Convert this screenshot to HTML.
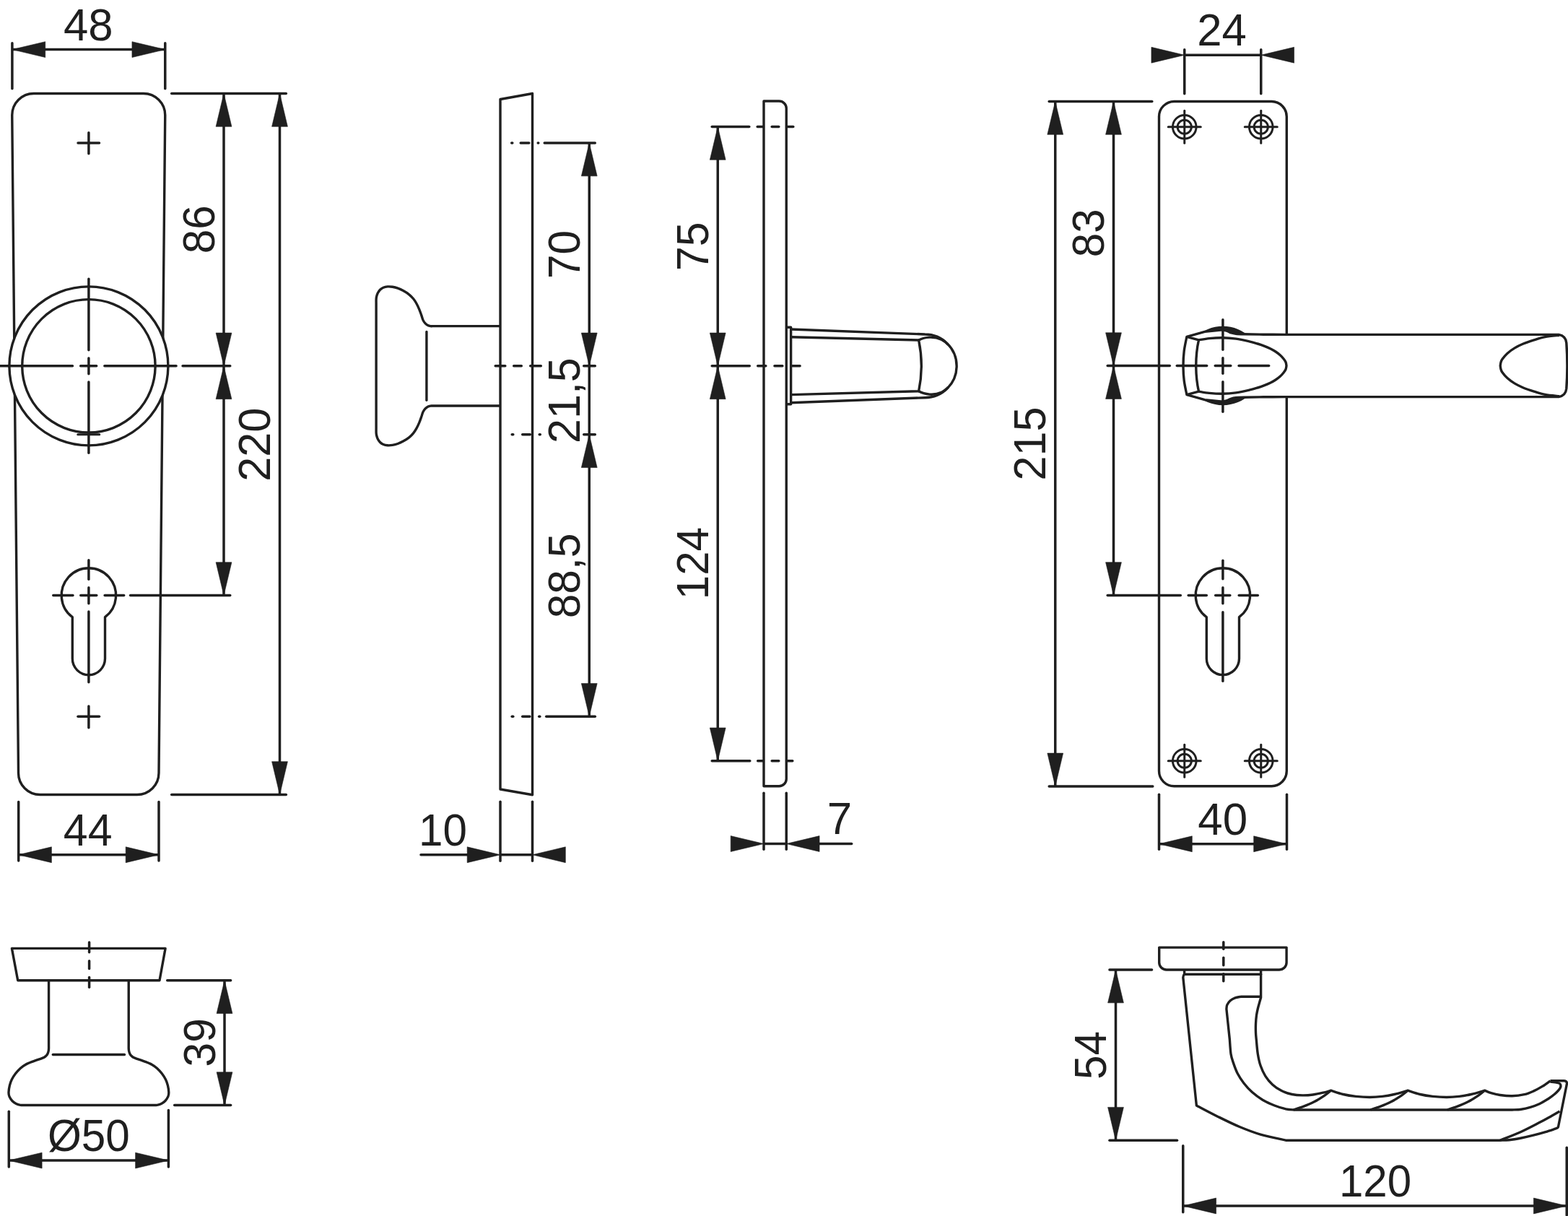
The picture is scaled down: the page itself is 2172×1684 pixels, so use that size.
<!DOCTYPE html>
<html><head><meta charset="utf-8"><title>Drawing</title>
<style>
html,body{margin:0;padding:0;background:#fff;}
body{width:2172px;height:1684px;overflow:hidden;}
svg{display:block;font-family:"Liberation Sans",sans-serif;}
</style></head><body>
<svg width="2172" height="1684" viewBox="0 0 2172 1684" stroke="#1f1f1f" fill="none" stroke-linejoin="round">
<rect x="0" y="0" width="2172" height="1684" fill="#ffffff" stroke="none"/>
<path d="M46.75,129.5 H198.75 A30,30 0 0 1 228.75,159.5 L220,1070.5 A30,30 0 0 1 190,1100.5 H55.5 A30,30 0 0 1 25.5,1070.5 L16.75,159.5 A30,30 0 0 1 46.75,129.5 Z" stroke-width="3.4" fill="none" />
<line x1="108.0" y1="198" x2="137.5" y2="198" stroke-width="3.5" stroke-linecap="round"/>
<line x1="122.9" y1="183.75" x2="122.9" y2="212.75" stroke-width="3.5" stroke-linecap="round"/>
<line x1="108.0" y1="992.25" x2="137.5" y2="992.25" stroke-width="3.5" stroke-linecap="round"/>
<line x1="122.9" y1="978.0" x2="122.9" y2="1007.75" stroke-width="3.5" stroke-linecap="round"/>
<circle cx="122.9" cy="506.85" r="110" stroke-width="3.4" fill="#fff"/>
<circle cx="122.9" cy="506.85" r="92.2" stroke-width="3.4" fill="none"/>
<line x1="-1.25" y1="506.85" x2="100.45" y2="506.85" stroke-width="3.5" stroke-linecap="round"/>
<line x1="111.65" y1="506.85" x2="133.65" y2="506.85" stroke-width="3.5" stroke-linecap="round"/>
<line x1="144.85" y1="506.85" x2="244.05" y2="506.85" stroke-width="3.5" stroke-linecap="round"/>
<line x1="253.05" y1="506.85" x2="318.75" y2="506.85" stroke-width="3.5" stroke-linecap="round"/>
<line x1="122.9" y1="386.25" x2="122.9" y2="484.85" stroke-width="3.5" stroke-linecap="round"/>
<line x1="122.9" y1="496.05" x2="122.9" y2="517.85" stroke-width="3.5" stroke-linecap="round"/>
<line x1="122.9" y1="529.05" x2="122.9" y2="627.25" stroke-width="3.5" stroke-linecap="round"/>
<line x1="107.8" y1="601.75" x2="137.7" y2="601.75" stroke-width="3.1" stroke-linecap="round"/>
<path d="M100.30000000000001,854.67 A37.7,37.7 0 1 1 145.5,854.67 V912.1 A22.6,22.6 0 0 1 100.30000000000001,912.1 Z" stroke-width="3.4" fill="none" />
<line x1="73.75" y1="824.5" x2="100.95" y2="824.5" stroke-width="3.5" stroke-linecap="round"/>
<line x1="111.75" y1="824.5" x2="133.75" y2="824.5" stroke-width="3.5" stroke-linecap="round"/>
<line x1="145.15" y1="824.5" x2="171.65" y2="824.5" stroke-width="3.5" stroke-linecap="round"/>
<line x1="180.55" y1="824.5" x2="318.75" y2="824.5" stroke-width="3.5" stroke-linecap="round"/>
<line x1="122.9" y1="775.75" x2="122.9" y2="802.35" stroke-width="3.5" stroke-linecap="round"/>
<line x1="122.9" y1="813.75" x2="122.9" y2="835.85" stroke-width="3.5" stroke-linecap="round"/>
<line x1="122.9" y1="846.95" x2="122.9" y2="944.85" stroke-width="3.5" stroke-linecap="round"/>
<line x1="237.7" y1="129.5" x2="396.3" y2="129.5" stroke-width="3.5" stroke-linecap="round"/>
<line x1="237.7" y1="1100.5" x2="396.3" y2="1100.5" stroke-width="3.5" stroke-linecap="round"/>
<line x1="310" y1="129.5" x2="310" y2="824.5" stroke-width="3.5" stroke-linecap="butt"/>
<polygon points="310.00,129.50 299.10,175.30 320.90,175.30" fill="#1f1f1f" stroke-width="0.6"/>
<polygon points="310.00,506.85 299.10,461.05 320.90,461.05" fill="#1f1f1f" stroke-width="0.6"/>
<polygon points="310.00,506.85 299.10,552.65 320.90,552.65" fill="#1f1f1f" stroke-width="0.6"/>
<polygon points="310.00,824.50 299.10,778.70 320.90,778.70" fill="#1f1f1f" stroke-width="0.6"/>
<line x1="387.5" y1="129.5" x2="387.5" y2="1100.5" stroke-width="3.5" stroke-linecap="butt"/>
<polygon points="387.50,129.50 376.60,175.30 398.40,175.30" fill="#1f1f1f" stroke-width="0.6"/>
<polygon points="387.50,1100.50 376.60,1054.70 398.40,1054.70" fill="#1f1f1f" stroke-width="0.6"/>
<line x1="16.9" y1="59.7" x2="16.9" y2="122.8" stroke-width="3.5" stroke-linecap="round"/>
<line x1="228.75" y1="59.7" x2="228.75" y2="122.8" stroke-width="3.5" stroke-linecap="round"/>
<line x1="16.9" y1="68.6" x2="228.75" y2="68.6" stroke-width="3.5" stroke-linecap="butt"/>
<polygon points="16.90,68.60 62.70,57.70 62.70,79.50" fill="#1f1f1f" stroke-width="0.6"/>
<polygon points="228.75,68.60 182.95,57.70 182.95,79.50" fill="#1f1f1f" stroke-width="0.6"/>
<line x1="25.7" y1="1110.5" x2="25.7" y2="1192.0" stroke-width="3.5" stroke-linecap="round"/>
<line x1="220" y1="1110.5" x2="220" y2="1192.0" stroke-width="3.5" stroke-linecap="round"/>
<line x1="25.6" y1="1183.75" x2="220" y2="1183.75" stroke-width="3.5" stroke-linecap="butt"/>
<polygon points="25.60,1183.75 71.40,1172.85 71.40,1194.65" fill="#1f1f1f" stroke-width="0.6"/>
<polygon points="220.00,1183.75 174.20,1172.85 174.20,1194.65" fill="#1f1f1f" stroke-width="0.6"/>
<path d="M16.4,1313.4 H229.1 L221,1357.7 H24.7 Z" stroke-width="3.4" fill="none" />
<line x1="123.6" y1="1305.05" x2="123.6" y2="1318.75" stroke-width="3.5" stroke-linecap="round"/>
<line x1="123.6" y1="1330.85" x2="123.6" y2="1341.45" stroke-width="3.5" stroke-linecap="round"/>
<line x1="123.6" y1="1353.55" x2="123.6" y2="1367.25" stroke-width="3.5" stroke-linecap="round"/>
<path d="M67.56,1357.7 L67.56,1448.00 C67.56,1448.67 67.62,1450.75 67.56,1452.00 C67.50,1453.25 67.46,1454.28 67.20,1455.50 C66.94,1456.72 66.47,1458.27 66.00,1459.30 C65.53,1460.33 65.13,1460.92 64.40,1461.70 C63.67,1462.48 62.57,1463.40 61.60,1464.00 C60.63,1464.60 61.45,1464.25 58.60,1465.30 C55.75,1466.35 48.33,1468.82 44.50,1470.30 C40.67,1471.78 38.32,1472.68 35.60,1474.20 C32.88,1475.72 30.55,1477.30 28.20,1479.40 C25.85,1481.50 23.48,1484.20 21.50,1486.80 C19.52,1489.40 17.65,1492.27 16.30,1495.00 C14.95,1497.73 14.12,1500.23 13.40,1503.20 C12.68,1506.17 12.07,1510.22 12.00,1512.80 C11.93,1515.38 12.15,1516.72 13.00,1518.70 C13.85,1520.68 15.55,1523.08 17.10,1524.70 C18.65,1526.32 20.45,1527.47 22.30,1528.40 C24.15,1529.33 26.25,1529.95 28.20,1530.30 C30.15,1530.65 33.03,1530.47 34.00,1530.50 L211.80,1530.50 C212.77,1530.47 215.65,1530.65 217.60,1530.30 C219.55,1529.95 221.65,1529.33 223.50,1528.40 C225.35,1527.47 227.15,1526.32 228.70,1524.70 C230.25,1523.08 231.95,1520.68 232.80,1518.70 C233.65,1516.72 233.87,1515.38 233.80,1512.80 C233.73,1510.22 233.12,1506.17 232.40,1503.20 C231.68,1500.23 230.85,1497.73 229.50,1495.00 C228.15,1492.27 226.28,1489.40 224.30,1486.80 C222.32,1484.20 219.95,1481.50 217.60,1479.40 C215.25,1477.30 212.92,1475.72 210.20,1474.20 C207.48,1472.68 205.13,1471.78 201.30,1470.30 C197.47,1468.82 190.05,1466.35 187.20,1465.30 C184.35,1464.25 185.17,1464.60 184.20,1464.00 C183.23,1463.40 182.13,1462.48 181.40,1461.70 C180.67,1460.92 180.27,1460.33 179.80,1459.30 C179.33,1458.27 178.86,1456.72 178.60,1455.50 C178.34,1454.28 178.30,1453.25 178.24,1452.00 C178.18,1450.75 178.24,1448.67 178.24,1448.00 L178.24,1357.7" stroke-width="3.4" fill="none" />
<line x1="73.3" y1="1460.5" x2="172.5" y2="1460.5" stroke-width="3.4" stroke-linecap="round"/>
<line x1="231.7" y1="1357.7" x2="319.6" y2="1357.7" stroke-width="3.5" stroke-linecap="round"/>
<line x1="241.7" y1="1530.6" x2="319.6" y2="1530.6" stroke-width="3.5" stroke-linecap="round"/>
<line x1="311" y1="1357.7" x2="311" y2="1530.6" stroke-width="3.5" stroke-linecap="butt"/>
<polygon points="311.00,1357.70 300.10,1403.50 321.90,1403.50" fill="#1f1f1f" stroke-width="0.6"/>
<polygon points="311.00,1530.60 300.10,1484.80 321.90,1484.80" fill="#1f1f1f" stroke-width="0.6"/>
<line x1="12.3" y1="1539.25" x2="12.3" y2="1616.05" stroke-width="3.5" stroke-linecap="round"/>
<line x1="233.4" y1="1537.45" x2="233.4" y2="1616.05" stroke-width="3.5" stroke-linecap="round"/>
<line x1="12.3" y1="1607.1" x2="233.4" y2="1607.1" stroke-width="3.5" stroke-linecap="butt"/>
<polygon points="12.30,1607.10 58.10,1596.20 58.10,1618.00" fill="#1f1f1f" stroke-width="0.6"/>
<polygon points="233.40,1607.10 187.60,1596.20 187.60,1618.00" fill="#1f1f1f" stroke-width="0.6"/>
<path d="M693,137.5 L737.5,129.5 V1100.75 L693,1093 Z" stroke-width="3.4" fill="none" />
<path d="M693,451.64 L600.00,451.64 C599.38,451.64 597.53,451.83 596.30,451.64 C595.07,451.45 593.83,451.17 592.60,450.50 C591.37,449.83 590.02,448.83 588.90,447.60 C587.78,446.37 586.77,444.97 585.90,443.10 C585.03,441.23 584.57,438.87 583.70,436.40 C582.83,433.93 581.82,430.95 580.70,428.30 C579.58,425.65 578.35,422.92 577.00,420.50 C575.65,418.08 574.33,415.92 572.60,413.80 C570.87,411.68 568.95,409.67 566.60,407.80 C564.25,405.93 561.10,404.03 558.50,402.60 C555.90,401.17 553.48,400.08 551.00,399.20 C548.52,398.32 545.95,397.68 543.60,397.30 C541.25,396.92 539.00,396.75 536.90,396.90 C534.80,397.05 532.73,397.48 531.00,398.20 C529.27,398.92 527.80,399.90 526.50,401.20 C525.20,402.50 524.03,404.33 523.20,406.00 C522.37,407.67 521.85,409.72 521.50,411.20 C521.15,412.68 521.17,413.43 521.10,414.90 C521.03,416.37 521.10,419.15 521.10,420.00 L521.10,593.70 C521.10,594.55 521.03,597.33 521.10,598.80 C521.17,600.27 521.15,601.02 521.50,602.50 C521.85,603.98 522.37,606.03 523.20,607.70 C524.03,609.37 525.20,611.20 526.50,612.50 C527.80,613.80 529.27,614.78 531.00,615.50 C532.73,616.22 534.80,616.65 536.90,616.80 C539.00,616.95 541.25,616.78 543.60,616.40 C545.95,616.02 548.52,615.38 551.00,614.50 C553.48,613.62 555.90,612.53 558.50,611.10 C561.10,609.67 564.25,607.77 566.60,605.90 C568.95,604.03 570.87,602.02 572.60,599.90 C574.33,597.78 575.65,595.62 577.00,593.20 C578.35,590.78 579.58,588.05 580.70,585.40 C581.82,582.75 582.83,579.77 583.70,577.30 C584.57,574.83 585.03,572.47 585.90,570.60 C586.77,568.73 587.78,567.33 588.90,566.10 C590.02,564.87 591.37,563.87 592.60,563.20 C593.83,562.53 595.07,562.25 596.30,562.06 C597.53,561.87 599.38,562.06 600.00,562.06 L693,562.06" stroke-width="3.4" fill="none" />
<line x1="590.9" y1="459.5" x2="590.9" y2="554.1999999999999" stroke-width="3.4" stroke-linecap="round"/>
<line x1="686.2" y1="506.85" x2="699.8" y2="506.85" stroke-width="3.5" stroke-linecap="round"/>
<line x1="711.7" y1="506.85" x2="722.3" y2="506.85" stroke-width="3.5" stroke-linecap="round"/>
<line x1="734.7" y1="506.85" x2="749.3" y2="506.85" stroke-width="3.5" stroke-linecap="round"/>
<line x1="808.7" y1="506.85" x2="824.3" y2="506.85" stroke-width="3.5" stroke-linecap="round"/>
<line x1="709.2" y1="601.75" x2="710.8" y2="601.75" stroke-width="3.5" stroke-linecap="round"/>
<line x1="723.7" y1="601.75" x2="734.3" y2="601.75" stroke-width="3.5" stroke-linecap="round"/>
<line x1="747.2" y1="601.75" x2="748.3" y2="601.75" stroke-width="3.5" stroke-linecap="round"/>
<line x1="808.7" y1="601.75" x2="824.3" y2="601.75" stroke-width="3.5" stroke-linecap="round"/>
<line x1="708.7" y1="198" x2="709.8" y2="198" stroke-width="3.5" stroke-linecap="round"/>
<line x1="721.2" y1="198" x2="732.8" y2="198" stroke-width="3.5" stroke-linecap="round"/>
<line x1="745.2" y1="198" x2="745.8" y2="198" stroke-width="3.5" stroke-linecap="round"/>
<line x1="754.2" y1="198" x2="824.3" y2="198" stroke-width="3.5" stroke-linecap="round"/>
<line x1="709.2" y1="992.25" x2="710.8" y2="992.25" stroke-width="3.5" stroke-linecap="round"/>
<line x1="723.7" y1="992.25" x2="733.8" y2="992.25" stroke-width="3.5" stroke-linecap="round"/>
<line x1="746.7" y1="992.25" x2="747.8" y2="992.25" stroke-width="3.5" stroke-linecap="round"/>
<line x1="756.7" y1="992.25" x2="824.3" y2="992.25" stroke-width="3.5" stroke-linecap="round"/>
<line x1="816.25" y1="198" x2="816.25" y2="992.25" stroke-width="3.5" stroke-linecap="butt"/>
<polygon points="816.25,198.00 805.35,243.80 827.15,243.80" fill="#1f1f1f" stroke-width="0.6"/>
<polygon points="816.25,506.85 805.35,461.05 827.15,461.05" fill="#1f1f1f" stroke-width="0.6"/>
<polygon points="816.25,601.75 805.35,647.55 827.15,647.55" fill="#1f1f1f" stroke-width="0.6"/>
<polygon points="816.25,992.25 805.35,946.45 827.15,946.45" fill="#1f1f1f" stroke-width="0.6"/>
<line x1="693" y1="1110.2" x2="693" y2="1192.3" stroke-width="3.5" stroke-linecap="round"/>
<line x1="737.5" y1="1110.2" x2="737.5" y2="1192.3" stroke-width="3.5" stroke-linecap="round"/>
<line x1="583.0" y1="1183.75" x2="678.25" y2="1183.75" stroke-width="3.5" stroke-linecap="round"/>
<line x1="693" y1="1183.75" x2="737.5" y2="1183.75" stroke-width="3.5" stroke-linecap="butt"/>
<polygon points="693.00,1183.75 647.20,1172.85 647.20,1194.65" fill="#1f1f1f" stroke-width="0.6"/>
<polygon points="737.50,1183.75 783.30,1172.85 783.30,1194.65" fill="#1f1f1f" stroke-width="0.6"/>
<path d="M1058,140 H1079.25 A10,10 0 0 1 1089.25,150 V1078.75 A10,10 0 0 1 1079.25,1088.75 H1058 Z" stroke-width="3.4" fill="none" />
<line x1="986.2" y1="175.5" x2="1037.8" y2="175.5" stroke-width="3.5" stroke-linecap="round"/>
<line x1="1049.2" y1="175.5" x2="1056.8" y2="175.5" stroke-width="3.5" stroke-linecap="round"/>
<line x1="1069.2" y1="175.5" x2="1078.8" y2="175.5" stroke-width="3.5" stroke-linecap="round"/>
<line x1="1091.2" y1="175.5" x2="1098.8" y2="175.5" stroke-width="3.5" stroke-linecap="round"/>
<line x1="986.2" y1="506.85" x2="1038.3" y2="506.85" stroke-width="3.5" stroke-linecap="round"/>
<line x1="1049.7" y1="506.85" x2="1060.8" y2="506.85" stroke-width="3.5" stroke-linecap="round"/>
<line x1="1072.95" y1="506.85" x2="1083.85" y2="506.85" stroke-width="3.5" stroke-linecap="round"/>
<line x1="1097.75" y1="506.85" x2="1108.05" y2="506.85" stroke-width="3.5" stroke-linecap="round"/>
<line x1="986.2" y1="1053.75" x2="1038.8" y2="1053.75" stroke-width="3.5" stroke-linecap="round"/>
<line x1="1049.7" y1="1053.75" x2="1056.8" y2="1053.75" stroke-width="3.5" stroke-linecap="round"/>
<line x1="1069.2" y1="1053.75" x2="1078.8" y2="1053.75" stroke-width="3.5" stroke-linecap="round"/>
<line x1="1091.2" y1="1053.75" x2="1097.8" y2="1053.75" stroke-width="3.5" stroke-linecap="round"/>
<line x1="994.25" y1="175.5" x2="994.25" y2="1053.75" stroke-width="3.5" stroke-linecap="butt"/>
<polygon points="994.25,175.50 983.35,221.30 1005.15,221.30" fill="#1f1f1f" stroke-width="0.6"/>
<polygon points="994.25,506.85 983.35,461.05 1005.15,461.05" fill="#1f1f1f" stroke-width="0.6"/>
<polygon points="994.25,506.85 983.35,552.65 1005.15,552.65" fill="#1f1f1f" stroke-width="0.6"/>
<polygon points="994.25,1053.75 983.35,1007.95 1005.15,1007.95" fill="#1f1f1f" stroke-width="0.6"/>
<path d="M1089.25,453.2 H1095.6 V559.8 H1089.25" stroke-width="3.4" fill="none" />
<path d="M1095.6,456 L1281.3,463 A43.85,43.85 0 0 1 1281.3,550.7 L1095.6,557.7" stroke-width="3.4" fill="none" />
<path d="M1095.6,466.7 L1272.6,471 C1277.6,495 1277.6,518 1272.6,541.8 L1095.6,546.6" stroke-width="3.4" fill="none" />
<path d="M1272.6,471 C1281,466.5 1294,465.5 1304,470.3 C1308,472.3 1311,474.8 1313.5,477.5" stroke-width="3.4" fill="none" />
<path d="M1272.6,541.8 C1281,546.5 1294,548 1304,543.4 C1308,541.4 1311,538.9 1313.5,536.2" stroke-width="3.4" fill="none" />
<line x1="1058" y1="1098.2" x2="1058" y2="1176.3" stroke-width="3.5" stroke-linecap="round"/>
<line x1="1089.25" y1="1098.2" x2="1089.25" y2="1176.3" stroke-width="3.5" stroke-linecap="round"/>
<line x1="1101.75" y1="1168.5" x2="1179.65" y2="1168.5" stroke-width="3.5" stroke-linecap="round"/>
<line x1="1058" y1="1168.5" x2="1089.25" y2="1168.5" stroke-width="3.5" stroke-linecap="butt"/>
<polygon points="1058.00,1168.50 1012.20,1157.60 1012.20,1179.40" fill="#1f1f1f" stroke-width="0.6"/>
<polygon points="1089.25,1168.50 1135.05,1157.60 1135.05,1179.40" fill="#1f1f1f" stroke-width="0.6"/>
<path d="M1626.5,140.5 H1761.5 A21,21 0 0 1 1782.3,161.5 V1067.75 A21,21 0 0 1 1761.5,1088.75 H1626.5 A21,21 0 0 1 1605.5,1067.75 V161.5 A21,21 0 0 1 1626.5,140.5 Z" stroke-width="3.4" fill="none" />
<circle cx="1640.75" cy="175.75" r="16.3" stroke-width="3" fill="none"/>
<circle cx="1640.75" cy="175.75" r="9.6" stroke-width="3" fill="none"/>
<line x1="1618.25" y1="175.75" x2="1663.25" y2="175.75" stroke-width="3" stroke-linecap="round"/>
<line x1="1640.75" y1="153.25" x2="1640.75" y2="198.25" stroke-width="3" stroke-linecap="round"/>
<circle cx="1640.75" cy="1053.75" r="16.3" stroke-width="3" fill="none"/>
<circle cx="1640.75" cy="1053.75" r="9.6" stroke-width="3" fill="none"/>
<line x1="1618.25" y1="1053.75" x2="1663.25" y2="1053.75" stroke-width="3" stroke-linecap="round"/>
<line x1="1640.75" y1="1031.25" x2="1640.75" y2="1076.25" stroke-width="3" stroke-linecap="round"/>
<circle cx="1746.75" cy="175.75" r="16.3" stroke-width="3" fill="none"/>
<circle cx="1746.75" cy="175.75" r="9.6" stroke-width="3" fill="none"/>
<line x1="1724.25" y1="175.75" x2="1769.25" y2="175.75" stroke-width="3" stroke-linecap="round"/>
<line x1="1746.75" y1="153.25" x2="1746.75" y2="198.25" stroke-width="3" stroke-linecap="round"/>
<circle cx="1746.75" cy="1053.75" r="16.3" stroke-width="3" fill="none"/>
<circle cx="1746.75" cy="1053.75" r="9.6" stroke-width="3" fill="none"/>
<line x1="1724.25" y1="1053.75" x2="1769.25" y2="1053.75" stroke-width="3" stroke-linecap="round"/>
<line x1="1746.75" y1="1031.25" x2="1746.75" y2="1076.25" stroke-width="3" stroke-linecap="round"/>
<circle cx="1693.9" cy="506.5" r="54.7" fill="#1f1f1f" stroke="none"/>
<path d="M1643.9,466.3 L1668.8,459.4 L1693.6,456.8 C1694.67,457.07 1698.00,457.70 1700.00,458.40 C1702.00,459.10 1703.60,460.35 1705.60,461.00 C1707.60,461.65 1709.10,462.00 1712.00,462.30 C1714.90,462.60 1716.67,462.65 1723.00,462.80 C1729.33,462.95 1740.17,463.10 1750.00,463.20 C1759.83,463.30 1776.67,463.37 1782.00,463.40 L2159.3,463.4 C2165,464.5 2169.2,468.5 2169.8,474.8 C2171.2,495 2171.2,518 2169.8,538.2 C2169.2,544.5 2165,548.5 2159.3,549.6 L1782,549.6 C1776.67,549.63 1759.83,549.70 1750.00,549.80 C1740.17,549.90 1729.33,550.05 1723.00,550.20 C1716.67,550.35 1714.90,550.40 1712.00,550.70 C1709.10,551.00 1707.60,551.35 1705.60,552.00 C1703.60,552.65 1702.00,553.90 1700.00,554.60 C1698.00,555.30 1694.67,555.93 1693.60,556.20 L1668.8,553.6 L1643.9,546.7 C1643.28,543.42 1641.02,533.70 1640.20,527.00 C1639.38,520.30 1639.00,513.33 1639.00,506.50 C1639.00,499.67 1639.38,492.70 1640.20,486.00 C1641.02,479.30 1643.28,469.58 1643.90,466.30 Z" stroke-width="3.4" fill="#fff" />
<path d="M1643.9,466.3 L1660.5,470.9 C1655.5,493 1655.5,520 1660.5,542.1 L1643.9,546.7" stroke-width="3.4" fill="none" />
<path d="M1660.50,470.90 C1662.95,470.52 1669.68,469.13 1675.20,468.60 C1680.72,468.07 1687.47,467.62 1693.60,467.70 C1699.73,467.78 1705.87,468.25 1712.00,469.10 C1718.13,469.95 1725.40,471.65 1730.40,472.80 C1735.40,473.95 1738.47,474.92 1742.00,476.00 C1745.53,477.08 1748.60,478.13 1751.60,479.30 C1754.60,480.47 1757.43,481.72 1760.00,483.00 C1762.57,484.28 1764.75,485.50 1767.00,487.00 C1769.25,488.50 1771.65,490.33 1773.50,492.00 C1775.35,493.67 1776.85,495.42 1778.10,497.00 C1779.35,498.58 1780.35,499.92 1781.00,501.50 C1781.65,503.08 1781.83,505.67 1782.00,506.50 C1781.83,507.33 1781.65,509.92 1781.00,511.50 C1780.35,513.08 1779.35,514.42 1778.10,516.00 C1776.85,517.58 1775.35,519.33 1773.50,521.00 C1771.65,522.67 1769.25,524.50 1767.00,526.00 C1764.75,527.50 1762.57,528.72 1760.00,530.00 C1757.43,531.28 1754.60,532.53 1751.60,533.70 C1748.60,534.87 1745.53,535.92 1742.00,537.00 C1738.47,538.08 1735.40,539.05 1730.40,540.20 C1725.40,541.35 1718.13,543.05 1712.00,543.90 C1705.87,544.75 1699.73,545.22 1693.60,545.30 C1687.47,545.38 1680.72,544.93 1675.20,544.40 C1669.68,543.87 1662.95,542.48 1660.50,542.10" stroke-width="3.4" fill="none" />
<path d="M2160.00,464.30 C2156.72,464.68 2146.15,465.50 2140.30,466.60 C2134.45,467.70 2130.03,469.28 2124.90,470.90 C2119.77,472.52 2114.00,474.43 2109.50,476.30 C2105.00,478.17 2101.50,479.92 2097.90,482.10 C2094.30,484.28 2090.73,486.83 2087.90,489.40 C2085.07,491.97 2082.38,495.43 2080.90,497.50 C2079.42,499.57 2079.45,500.30 2079.00,501.80 C2078.55,503.30 2078.33,505.72 2078.20,506.50 C2078.33,507.28 2078.55,509.70 2079.00,511.20 C2079.45,512.70 2079.42,513.43 2080.90,515.50 C2082.38,517.57 2085.07,521.03 2087.90,523.60 C2090.73,526.17 2094.30,528.72 2097.90,530.90 C2101.50,533.08 2105.00,534.83 2109.50,536.70 C2114.00,538.57 2119.77,540.48 2124.90,542.10 C2130.03,543.72 2134.45,545.30 2140.30,546.40 C2146.15,547.50 2156.72,548.32 2160.00,548.70" stroke-width="3.4" fill="none" />
<line x1="1640.75" y1="68.7" x2="1640.75" y2="129.8" stroke-width="3.5" stroke-linecap="round"/>
<line x1="1746.75" y1="68.7" x2="1746.75" y2="129.8" stroke-width="3.5" stroke-linecap="round"/>
<line x1="1640.75" y1="76.25" x2="1746.75" y2="76.25" stroke-width="3.5" stroke-linecap="butt"/>
<polygon points="1640.75,76.25 1594.95,65.35 1594.95,87.15" fill="#1f1f1f" stroke-width="0.6"/>
<polygon points="1746.75,76.25 1792.55,65.35 1792.55,87.15" fill="#1f1f1f" stroke-width="0.6"/>
<line x1="1453.2" y1="140.5" x2="1595.8" y2="140.5" stroke-width="3.5" stroke-linecap="round"/>
<line x1="1453.2" y1="1088.9" x2="1596.8" y2="1088.9" stroke-width="3.5" stroke-linecap="round"/>
<line x1="1461.75" y1="140.5" x2="1461.75" y2="1088.9" stroke-width="3.5" stroke-linecap="butt"/>
<polygon points="1461.75,140.50 1450.85,186.30 1472.65,186.30" fill="#1f1f1f" stroke-width="0.6"/>
<polygon points="1461.75,1088.90 1450.85,1043.10 1472.65,1043.10" fill="#1f1f1f" stroke-width="0.6"/>
<line x1="1542.5" y1="140.5" x2="1542.5" y2="824.5" stroke-width="3.5" stroke-linecap="butt"/>
<polygon points="1542.50,140.50 1531.60,186.30 1553.40,186.30" fill="#1f1f1f" stroke-width="0.6"/>
<polygon points="1542.50,506.60 1531.60,460.80 1553.40,460.80" fill="#1f1f1f" stroke-width="0.6"/>
<polygon points="1542.50,506.60 1531.60,552.40 1553.40,552.40" fill="#1f1f1f" stroke-width="0.6"/>
<polygon points="1542.50,824.50 1531.60,778.70 1553.40,778.70" fill="#1f1f1f" stroke-width="0.6"/>
<line x1="1534.2" y1="506.6" x2="1620.3" y2="506.6" stroke-width="3.5" stroke-linecap="round"/>
<line x1="1630.25" y1="506.6" x2="1671.65" y2="506.6" stroke-width="3.5" stroke-linecap="round"/>
<line x1="1683.25" y1="506.6" x2="1704.75" y2="506.6" stroke-width="3.5" stroke-linecap="round"/>
<line x1="1716.05" y1="506.6" x2="1757.65" y2="506.6" stroke-width="3.5" stroke-linecap="round"/>
<line x1="1693.9" y1="442.75" x2="1693.9" y2="484.25" stroke-width="3.5" stroke-linecap="round"/>
<line x1="1693.9" y1="495.75" x2="1693.9" y2="517.35" stroke-width="3.5" stroke-linecap="round"/>
<line x1="1693.9" y1="528.85" x2="1693.9" y2="570.25" stroke-width="3.5" stroke-linecap="round"/>
<path d="M1671.3000000000002,854.67 A37.7,37.7 0 1 1 1716.5,854.67 V912.1 A22.6,22.6 0 0 1 1671.3000000000002,912.1 Z" stroke-width="3.4" fill="none" />
<line x1="1534.2" y1="824.5" x2="1635.3" y2="824.5" stroke-width="3.5" stroke-linecap="round"/>
<line x1="1646.2" y1="824.5" x2="1671.3" y2="824.5" stroke-width="3.5" stroke-linecap="round"/>
<line x1="1683.7" y1="824.5" x2="1703.8" y2="824.5" stroke-width="3.5" stroke-linecap="round"/>
<line x1="1716.2" y1="824.5" x2="1742.3" y2="824.5" stroke-width="3.5" stroke-linecap="round"/>
<line x1="1693.9" y1="776.2" x2="1693.9" y2="801.8" stroke-width="3.5" stroke-linecap="round"/>
<line x1="1693.9" y1="813.7" x2="1693.9" y2="835.8" stroke-width="3.5" stroke-linecap="round"/>
<line x1="1693.9" y1="847.7" x2="1693.9" y2="943.3" stroke-width="3.5" stroke-linecap="round"/>
<line x1="1605.5" y1="1100.2" x2="1605.5" y2="1176.3" stroke-width="3.5" stroke-linecap="round"/>
<line x1="1782.5" y1="1100.2" x2="1782.5" y2="1176.3" stroke-width="3.5" stroke-linecap="round"/>
<line x1="1605.5" y1="1168.75" x2="1782.5" y2="1168.75" stroke-width="3.5" stroke-linecap="butt"/>
<polygon points="1605.50,1168.75 1651.30,1157.85 1651.30,1179.65" fill="#1f1f1f" stroke-width="0.6"/>
<polygon points="1782.50,1168.75 1736.70,1157.85 1736.70,1179.65" fill="#1f1f1f" stroke-width="0.6"/>
<path d="M1605.7,1312.1 H1782.1 V1333 A10,10 0 0 1 1772.1,1343 H1615.7 A10,10 0 0 1 1605.7,1333 Z" stroke-width="3.4" fill="none" />
<line x1="1694.8" y1="1304.65" x2="1694.8" y2="1314.35" stroke-width="3.5" stroke-linecap="round"/>
<line x1="1694.8" y1="1326.15" x2="1694.8" y2="1336.65" stroke-width="3.5" stroke-linecap="round"/>
<line x1="1694.8" y1="1348.65" x2="1694.8" y2="1358.75" stroke-width="3.5" stroke-linecap="round"/>
<path d="M1640.6,1343 V1349.3 M1746.6,1343 V1349.3" stroke-width="3.4" fill="none" />
<line x1="1640.6" y1="1349.3" x2="1746.6" y2="1349.3" stroke-width="3.4" stroke-linecap="round"/>
<path d="M1640.6,1349.3 C1639.3,1350.5 1638.6,1352 1638.9,1354.5 L1657.4,1531 C1662.52,1533.65 1678.15,1541.98 1688.10,1546.90 C1698.05,1551.82 1707.43,1556.47 1717.10,1560.50 C1726.77,1564.53 1735.45,1567.98 1746.10,1571.10 C1756.75,1574.22 1775.18,1577.85 1781.00,1579.20 L2078,1579.2 C2080.10,1579.12 2085.72,1579.23 2090.60,1578.70 C2095.48,1578.17 2101.72,1577.08 2107.30,1576.00 C2112.88,1574.92 2118.52,1573.60 2124.10,1572.20 C2129.68,1570.80 2135.73,1569.10 2140.80,1567.60 C2145.87,1566.10 2152.22,1563.93 2154.50,1563.20 C2156.8,1562.5 2158,1562 2158.5,1560.5 L2170.4,1501 C2170.9,1498.6 2169.2,1496.8 2166.8,1496.8 L2147.5,1496.8" stroke-width="3.4" fill="none" />
<path d="M1746.6,1349.3 L1746.6,1381.5 C1746.30,1382.53 1745.50,1385.20 1744.80,1387.70 C1744.10,1390.20 1743.12,1393.43 1742.40,1396.50 C1741.68,1399.57 1740.98,1402.57 1740.50,1406.10 C1740.02,1409.63 1739.67,1413.67 1739.50,1417.70 C1739.33,1421.73 1739.37,1426.58 1739.50,1430.30 C1739.63,1434.02 1739.83,1435.15 1740.30,1440.00 C1740.77,1444.85 1741.33,1453.43 1742.30,1459.40 C1743.27,1465.37 1744.33,1470.65 1746.10,1475.80 C1747.87,1480.95 1750.15,1485.95 1752.90,1490.30 C1755.65,1494.65 1758.88,1498.52 1762.60,1501.90 C1766.32,1505.28 1770.68,1508.33 1775.20,1510.60 C1779.72,1512.87 1784.87,1514.45 1789.70,1515.50 C1794.53,1516.55 1799.37,1516.82 1804.20,1516.90 C1809.03,1516.98 1813.87,1516.63 1818.70,1516.00 C1823.53,1515.37 1829.03,1514.07 1833.20,1513.10 C1837.37,1512.13 1841.95,1510.68 1843.70,1510.20 C1846.52,1511.08 1854.87,1514.13 1860.60,1515.50 C1866.33,1516.87 1871.97,1517.73 1878.10,1518.40 C1884.23,1519.07 1891.28,1519.50 1897.40,1519.50 C1903.52,1519.50 1909.15,1519.07 1914.80,1518.40 C1920.45,1517.73 1925.40,1516.87 1931.30,1515.50 C1937.20,1514.13 1947.05,1511.08 1950.20,1510.20 C1953.02,1511.08 1961.37,1514.13 1967.10,1515.50 C1972.83,1516.87 1978.47,1517.73 1984.60,1518.40 C1990.73,1519.07 1997.78,1519.50 2003.90,1519.50 C2010.02,1519.50 2015.65,1519.07 2021.30,1518.40 C2026.95,1517.73 2031.90,1516.87 2037.80,1515.50 C2043.70,1514.13 2053.55,1511.08 2056.70,1510.20 C2058.15,1510.77 2061.85,1512.55 2065.40,1513.60 C2068.95,1514.65 2073.12,1515.80 2078.00,1516.50 C2082.88,1517.20 2089.12,1517.93 2094.70,1517.80 C2100.28,1517.67 2106.60,1516.82 2111.50,1515.70 C2116.40,1514.58 2119.92,1512.98 2124.10,1511.10 C2128.28,1509.22 2132.70,1506.78 2136.60,1504.40 C2140.50,1502.02 2145.68,1498.07 2147.50,1496.80" stroke-width="3.4" fill="none" />
<path d="M1746.6,1380.3 L1718.7,1380.3 C1717.42,1380.57 1713.42,1380.98 1711.00,1381.90 C1708.58,1382.82 1706.07,1384.18 1704.20,1385.80 C1702.33,1387.42 1700.68,1389.67 1699.80,1391.60 C1698.92,1393.53 1699.05,1396.43 1698.90,1397.40 L1703.4,1440 C1703.67,1443.23 1704.17,1454.08 1705.00,1459.40 C1705.83,1464.72 1706.87,1467.38 1708.40,1471.90 C1709.93,1476.42 1711.78,1481.82 1714.20,1486.50 C1716.62,1491.18 1719.52,1495.65 1722.90,1500.00 C1726.28,1504.35 1730.15,1508.73 1734.50,1512.60 C1738.85,1516.47 1743.83,1520.13 1749.00,1523.20 C1754.17,1526.27 1760.17,1528.90 1765.50,1531.00 C1770.83,1533.10 1776.48,1534.80 1781.00,1535.80 C1785.52,1536.80 1790.67,1536.80 1792.60,1537.00 L2094.7,1537 C2096.80,1536.87 2103.10,1536.82 2107.30,1536.20 C2111.50,1535.58 2115.72,1534.55 2119.90,1533.30 C2124.08,1532.05 2128.22,1530.67 2132.40,1528.70 C2136.58,1526.73 2141.50,1523.73 2145.00,1521.50 C2148.50,1519.27 2151.02,1517.32 2153.40,1515.30 C2155.78,1513.28 2157.90,1511.08 2159.30,1509.40 C2160.70,1507.72 2161.52,1506.60 2161.80,1505.20 C2162.08,1503.80 2161.83,1501.98 2161.00,1501.00 C2160.17,1500.02 2159.05,1499.80 2156.80,1499.30 C2154.55,1498.80 2149.05,1498.22 2147.50,1498.00" stroke-width="3.4" fill="none" />
<path d="M1843.70,1510.20 C1842.17,1511.40 1838.45,1514.75 1834.50,1517.40 C1830.55,1520.05 1824.85,1523.60 1820.00,1526.10 C1815.15,1528.60 1810.08,1530.62 1805.40,1532.40 C1800.72,1534.18 1794.15,1536.07 1791.90,1536.80" stroke-width="3.4" fill="none" />
<path d="M1950.20,1510.20 C1948.67,1511.40 1944.95,1514.75 1941.00,1517.40 C1937.05,1520.05 1931.35,1523.60 1926.50,1526.10 C1921.65,1528.60 1916.58,1530.62 1911.90,1532.40 C1907.22,1534.18 1900.65,1536.07 1898.40,1536.80" stroke-width="3.4" fill="none" />
<path d="M2056.70,1510.20 C2055.17,1511.40 2051.45,1514.75 2047.50,1517.40 C2043.55,1520.05 2037.85,1523.60 2033.00,1526.10 C2028.15,1528.60 2023.08,1530.62 2018.40,1532.40 C2013.72,1534.18 2007.15,1536.07 2004.90,1536.80" stroke-width="3.4" fill="none" />
<path d="M2078.00,1579.20 C2082.88,1577.20 2098.23,1571.30 2107.30,1567.20 C2116.37,1563.10 2125.42,1558.23 2132.40,1554.60 C2139.38,1550.97 2144.52,1547.98 2149.20,1545.40 C2153.88,1542.82 2158.62,1540.15 2160.50,1539.10" stroke-width="3.4" fill="none" />
<line x1="1536.95" y1="1343" x2="1595.55" y2="1343" stroke-width="3.5" stroke-linecap="round"/>
<line x1="1536.95" y1="1579.2" x2="1630.55" y2="1579.2" stroke-width="3.5" stroke-linecap="round"/>
<line x1="1545.5" y1="1343" x2="1545.5" y2="1579.2" stroke-width="3.5" stroke-linecap="butt"/>
<polygon points="1545.50,1343.00 1534.60,1388.80 1556.40,1388.80" fill="#1f1f1f" stroke-width="0.6"/>
<polygon points="1545.50,1579.20 1534.60,1533.40 1556.40,1533.40" fill="#1f1f1f" stroke-width="0.6"/>
<line x1="1638.75" y1="1586.7" x2="1638.75" y2="1678.8" stroke-width="3.5" stroke-linecap="round"/>
<line x1="2170.25" y1="1589.2" x2="2170.25" y2="1682.8" stroke-width="3.5" stroke-linecap="round"/>
<line x1="1638.75" y1="1670" x2="2170.25" y2="1670" stroke-width="3.5" stroke-linecap="butt"/>
<polygon points="1638.75,1670.00 1684.55,1659.10 1684.55,1680.90" fill="#1f1f1f" stroke-width="0.6"/>
<polygon points="2170.25,1670.00 2124.45,1659.10 2124.45,1680.90" fill="#1f1f1f" stroke-width="0.6"/>
<text transform="translate(87.88 55.50) scale(1.0109 1.035)" font-size="61" stroke="none" fill="#1f1f1f">48</text>
<text transform="translate(87.85 1170.85) scale(0.9975 1.035)" font-size="61" stroke="none" fill="#1f1f1f">44</text>
<text transform="translate(65.89 1594.00) scale(0.9885 1.035)" font-size="61" stroke="none" fill="#1f1f1f">&#216;50</text>
<text transform="translate(579.93 1170.85) scale(0.9866 1.035)" font-size="61" stroke="none" fill="#1f1f1f">10</text>
<text transform="translate(1145.63 1155.00) scale(1.0150 1.035)" font-size="61" stroke="none" fill="#1f1f1f">7</text>
<text transform="translate(1658.16 63.35) scale(1.0117 1.035)" font-size="61" stroke="none" fill="#1f1f1f">24</text>
<text transform="translate(1659.20 1155.85) scale(1.0150 1.035)" font-size="61" stroke="none" fill="#1f1f1f">40</text>
<text transform="translate(1854.90 1657.10) scale(0.9850 1.035)" font-size="61" stroke="none" fill="#1f1f1f">120</text>
<text transform="translate(296.50 351.34) rotate(-90) scale(0.9876 1.035)" font-size="61" stroke="none" fill="#1f1f1f">86</text>
<text transform="translate(374.00 666.81) rotate(-90) scale(1.0045 1.035)" font-size="61" stroke="none" fill="#1f1f1f">220</text>
<text transform="translate(297.50 1477.61) rotate(-90) scale(0.9945 1.035)" font-size="61" stroke="none" fill="#1f1f1f">39</text>
<text transform="translate(802.75 386.08) rotate(-90) scale(0.9905 1.035)" font-size="61" stroke="none" fill="#1f1f1f">70</text>
<text transform="translate(802.75 613.95) rotate(-90) scale(1.0001 1.035)" font-size="61" stroke="none" fill="#1f1f1f">21,5</text>
<text transform="translate(802.75 856.36) rotate(-90) scale(0.9932 1.035)" font-size="61" stroke="none" fill="#1f1f1f">88,5</text>
<text transform="translate(980.75 375.10) rotate(-90) scale(0.9974 1.035)" font-size="61" stroke="none" fill="#1f1f1f">75</text>
<text transform="translate(980.75 830.27) rotate(-90) scale(0.9850 1.035)" font-size="61" stroke="none" fill="#1f1f1f">124</text>
<text transform="translate(1448.25 665.55) rotate(-90) scale(1.0012 1.035)" font-size="61" stroke="none" fill="#1f1f1f">215</text>
<text transform="translate(1529.00 356.34) rotate(-90) scale(0.9876 1.035)" font-size="61" stroke="none" fill="#1f1f1f">83</text>
<text transform="translate(1532.00 1494.99) rotate(-90) scale(0.9850 1.035)" font-size="61" stroke="none" fill="#1f1f1f">54</text>
</svg>
</body></html>
